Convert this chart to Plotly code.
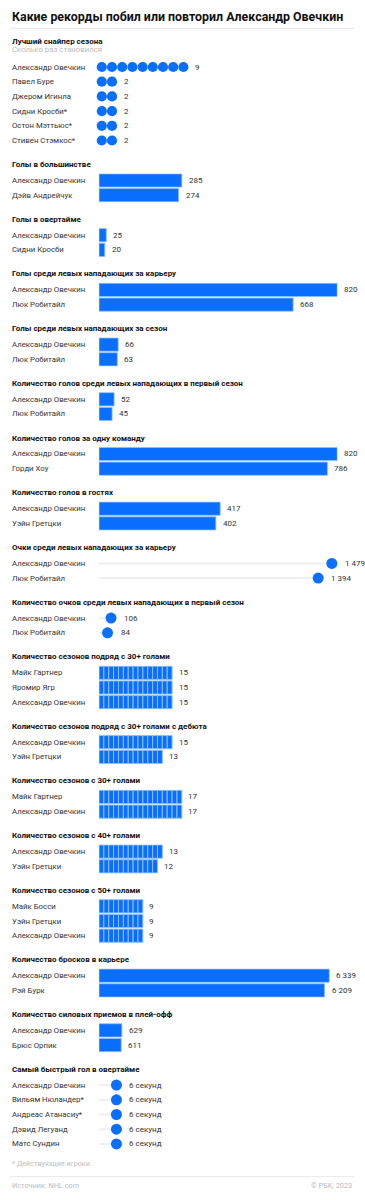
import plotly.graph_objects as go

# ---------------- DATA ----------------
title = "Какие рекорды побил или повторил Александр Овечкин"

sniper_header = "Лучший снайпер сезона"
sniper_sub = "Сколько раз становился"
sniper_names = ["Александр Овечкин", "Павел Буре", "Джером Игинла", "Сидни Кросби*", "Остон Мэттьюс*", "Стивен Стэмкос*"]
sniper_values = [9, 2, 2, 2, 2, 2]

pp_header = "Голы в большинстве"
pp_names = ["Александр Овечкин", "Дэйв Андрейчук"]
pp_values = [285, 274]

ot_header = "Голы в овертайме"
ot_names = ["Александр Овечкин", "Сидни Кросби"]
ot_values = [25, 20]

lwc_header = "Голы среди левых нападающих за карьеру"
lwc_names = ["Александр Овечкин", "Люк Робитайл"]
lwc_values = [820, 668]

lws_header = "Голы среди левых нападающих за сезон"
lws_names = ["Александр Овечкин", "Люк Робитайл"]
lws_values = [66, 63]

lwr_header = "Количество голов среди левых нападающих в первый сезон"
lwr_names = ["Александр Овечкин", "Люк Робитайл"]
lwr_values = [52, 45]

team_header = "Количество голов за одну команду"
team_names = ["Александр Овечкин", "Горди Хоу"]
team_values = [820, 786]

away_header = "Количество голов в гостях"
away_names = ["Александр Овечкин", "Уэйн Гретцки"]
away_values = [417, 402]

lwp_header = "Очки среди левых нападающих за карьеру"
lwp_names = ["Александр Овечкин", "Люк Робитайл"]
lwp_values = [1479, 1394]

rkp_header = "Количество очков среди левых нападающих в первый сезон"
rkp_names = ["Александр Овечкин", "Люк Робитайл"]
rkp_values = [106, 84]

st30_header = "Количество сезонов подряд с 30+ голами"
st30_names = ["Майк Гартнер", "Яромир Ягр", "Александр Овечкин"]
st30_values = [15, 15, 15]

st30d_header = "Количество сезонов подряд с 30+ голами с дебюта"
st30d_names = ["Александр Овечкин", "Уэйн Гретцки"]
st30d_values = [15, 13]

s30_header = "Количество сезонов с 30+ голами"
s30_names = ["Майк Гартнер", "Александр Овечкин"]
s30_values = [17, 17]

s40_header = "Количество сезонов с 40+ голами"
s40_names = ["Александр Овечкин", "Уэйн Гретцки"]
s40_values = [13, 12]

s50_header = "Количество сезонов с 50+ голами"
s50_names = ["Майк Босси", "Уэйн Гретцки", "Александр Овечкин"]
s50_values = [9, 9, 9]

shots_header = "Количество бросков в карьере"
shots_names = ["Александр Овечкин", "Рэй Бурк"]
shots_values = [6339, 6209]

hits_header = "Количество силовых приемов в плей-офф"
hits_names = ["Александр Овечкин", "Брюс Орпик"]
hits_values = [629, 611]

fot_header = "Самый быстрый гол в овертайме"
fot_names = ["Александр Овечкин", "Вильям Нюландер*", "Андреас Атанасиу*", "Дэвид Легуанд", "Матс Сундин"]
fot_values = [6, 6, 6, 6, 6]

footnote = "* Действующие игроки."
source = "Источник: NHL.com"
copyright_text = "© РБК, 2023"

# ---------------- STYLE ----------------
W, H = 365, 1200
BLUE = "#0A6EFF"
EDGE = "#8CC0FF"
TRACK = "#EFEFEF"
FONT = "Roboto"
NAME_COLOR = "#333333"
NAME_SIZE = 7.8
VALUE_SIZE = 8.0
HEAD_SIZE = 8.0
GOALS_RANGE = 820     # axis span (units across the bar area)
SHOTS_RANGE = 6560
WAFFLE_RANGE = 48.9
PTS_RANGE = 1544
SEC_RANGE = 66.4
DOT_RANGE = 24.09

BAR_L, BAR_R = 99, 337.3
PITCH = 14.7


def fmt(v):
    return f"{v:,}".replace(",", " ")


sections = [
    dict(kind="dots", header=sniper_header, sub=sniper_sub, names=sniper_names, values=sniper_values,
         rng=DOT_RANGE, left=91.6, labels=[str(v) for v in sniper_values]),
    dict(kind="bar", header=pp_header, names=pp_names, values=pp_values, rng=GOALS_RANGE),
    dict(kind="bar", header=ot_header, names=ot_names, values=ot_values, rng=GOALS_RANGE),
    dict(kind="bar", header=lwc_header, names=lwc_names, values=lwc_values, rng=GOALS_RANGE),
    dict(kind="bar", header=lws_header, names=lws_names, values=lws_values, rng=GOALS_RANGE),
    dict(kind="bar", header=lwr_header, names=lwr_names, values=lwr_values, rng=GOALS_RANGE),
    dict(kind="bar", header=team_header, names=team_names, values=team_values, rng=GOALS_RANGE),
    dict(kind="bar", header=away_header, names=away_names, values=away_values, rng=GOALS_RANGE),
    dict(kind="lolli", header=lwp_header, names=lwp_names, values=lwp_values, rng=PTS_RANGE, left=94),
    dict(kind="lolli", header=rkp_header, names=rkp_names, values=rkp_values, rng=PTS_RANGE, left=94),
    dict(kind="waffle", header=st30_header, names=st30_names, values=st30_values, rng=WAFFLE_RANGE),
    dict(kind="waffle", header=st30d_header, names=st30d_names, values=st30d_values, rng=WAFFLE_RANGE),
    dict(kind="waffle", header=s30_header, names=s30_names, values=s30_values, rng=WAFFLE_RANGE),
    dict(kind="waffle", header=s40_header, names=s40_names, values=s40_values, rng=WAFFLE_RANGE),
    dict(kind="waffle", header=s50_header, names=s50_names, values=s50_values, rng=WAFFLE_RANGE),
    dict(kind="bar", header=shots_header, names=shots_names, values=shots_values, rng=SHOTS_RANGE),
    dict(kind="bar", header=hits_header, names=hits_names, values=hits_values, rng=SHOTS_RANGE),
    dict(kind="lolli", header=fot_header, names=fot_names, values=fot_values, rng=SEC_RANGE, left=94,
         labels=[f"{v} секунд" for v in fot_values]),
]


def py(p):
    return 1 - p / H


def px(p):
    return p / W


fig = go.Figure()
annotations = []
shapes = []
layout_axes = {}

# title + rule
annotations.append(dict(text=f"<b>{title}</b>", x=px(10), y=py(16.5), xref="paper", yref="paper",
                        xanchor="left", yanchor="middle", showarrow=False,
                        font=dict(family=FONT, size=12.4, color="#111111")))
shapes.append(dict(type="line", xref="paper", yref="paper", x0=px(10), x1=px(355), y0=py(28.3), y1=py(28.3),
                   line=dict(color="#E6E6E6", width=1)))

cursor = 41.0
last_row = None
for i, s in enumerate(sections, start=1):
    xa = "x" if i == 1 else f"x{i}"
    ya = "y" if i == 1 else f"y{i}"
    n = len(s["values"])
    # header
    annotations.append(dict(text=f"<b>{s['header']}</b>", x=px(10), y=py(cursor), xref="paper", yref="paper",
                            xanchor="left", yanchor="middle", showarrow=False,
                            font=dict(family=FONT, size=HEAD_SIZE, color="#111111")))
    if s.get("sub"):
        annotations.append(dict(text=s["sub"], x=px(10), y=py(cursor + 9), xref="paper", yref="paper",
                                xanchor="left", yanchor="middle", showarrow=False,
                                font=dict(family=FONT, size=NAME_SIZE, color="#BDBDBD")))
        first = cursor + 26
    else:
        first = cursor + 16
    last_row = first + (n - 1) * PITCH
    top = first - PITCH / 2
    bottom = last_row + PITCH / 2
    left = s.get("left", BAR_L)
    rows = list(range(n))

    right = BAR_R if s["kind"] != "lolli" else BAR_R + (BAR_L - left)
    layout_axes["xaxis" if i == 1 else f"xaxis{i}"] = dict(
        domain=[px(left), px(right)],
        range=[0, s["rng"]], visible=False, fixedrange=True, anchor=ya)
    layout_axes["yaxis" if i == 1 else f"yaxis{i}"] = dict(
        domain=[py(bottom), py(top)], range=[n - 0.5, -0.5], visible=False, fixedrange=True, anchor=xa)

    labels = s.get("labels", [fmt(v) for v in s["values"]])
    gap = 5

    if s["kind"] == "bar":
        fig.add_trace(go.Bar(x=s["values"], y=rows, orientation="h", width=0.9,
                             marker=dict(color=BLUE, line=dict(color=EDGE, width=0.8)),
                             xaxis=xa, yaxis=ya, hoverinfo="skip"))
        gap = 5
    elif s["kind"] == "waffle":
        xs, ys, bs = [], [], []
        for r, v in enumerate(s["values"]):
            for k in range(v):
                xs.append(1)
                ys.append(r)
                bs.append(k)
        fig.add_trace(go.Bar(x=xs, y=ys, base=bs, orientation="h", width=0.9,
                             marker=dict(color=BLUE, line=dict(color=EDGE, width=1)),
                             xaxis=xa, yaxis=ya, hoverinfo="skip"))
        gap = 4.5
    elif s["kind"] == "lolli":
        x0 = s["rng"] * (BAR_L - left) / (right - left)
        tx, ty = [], []
        for r, v in enumerate(s["values"]):
            tx += [x0, v, None]
            ty += [r, r, None]
        fig.add_trace(go.Scatter(x=tx, y=ty, mode="lines", line=dict(color=TRACK, width=2),
                                 xaxis=xa, yaxis=ya, hoverinfo="skip"))
        fig.add_trace(go.Scatter(x=s["values"], y=rows, mode="markers",
                                 marker=dict(color=BLUE, size=11),
                                 xaxis=xa, yaxis=ya, hoverinfo="skip"))
        gap = 11
    elif s["kind"] == "dots":
        dx, dy = [], []
        for r, v in enumerate(s["values"]):
            for k in range(1, v + 1):
                dx.append(k)
                dy.append(r)
        fig.add_trace(go.Scatter(x=dx, y=dy, mode="markers", marker=dict(color=BLUE, size=10.2),
                                 xaxis=xa, yaxis=ya, hoverinfo="skip"))
        gap = 10

    for r, (nm, v, lb) in enumerate(zip(s["names"], s["values"], labels)):
        annotations.append(dict(text=nm, x=px(10), y=r, xref="paper", yref=ya,
                                xanchor="left", yanchor="middle", showarrow=False,
                                font=dict(family=FONT, size=NAME_SIZE, color=NAME_COLOR)))
        annotations.append(dict(text=lb, x=v, y=r, xref=xa, yref=ya, xshift=gap,
                                xanchor="left", yanchor="middle", showarrow=False,
                                font=dict(family=FONT, size=VALUE_SIZE, color=NAME_COLOR)))

    cursor = last_row + 24

# footer
annotations.append(dict(text=footnote, x=px(10), y=py(last_row + 20), xref="paper", yref="paper",
                        xanchor="left", yanchor="middle", showarrow=False,
                        font=dict(family=FONT, size=7.2, color="#BDBDBD")))
shapes.append(dict(type="line", xref="paper", yref="paper", x0=px(10), x1=px(355),
                   y0=py(last_row + 32.7), y1=py(last_row + 32.7), line=dict(color="#EAEAEA", width=1)))
annotations.append(dict(text=source, x=px(10), y=py(last_row + 42), xref="paper", yref="paper",
                        xanchor="left", yanchor="middle", showarrow=False,
                        font=dict(family=FONT, size=7.3, color="#BDBDBD")))
annotations.append(dict(text=copyright_text, x=px(354), y=py(last_row + 42), xref="paper", yref="paper",
                        xanchor="right", yanchor="middle", showarrow=False,
                        font=dict(family=FONT, size=7.3, color="#BDBDBD")))

fig.update_layout(width=W, height=H, margin=dict(l=0, r=0, t=0, b=0),
                  paper_bgcolor="white", plot_bgcolor="white", showlegend=False,
                  barmode="overlay", annotations=annotations, shapes=shapes, **layout_axes)

fig.write_html("out.html", config={"displayModeBar": False, "staticPlot": True},
               post_script="document.body.style.margin='0';document.body.style.overflow='hidden';")
